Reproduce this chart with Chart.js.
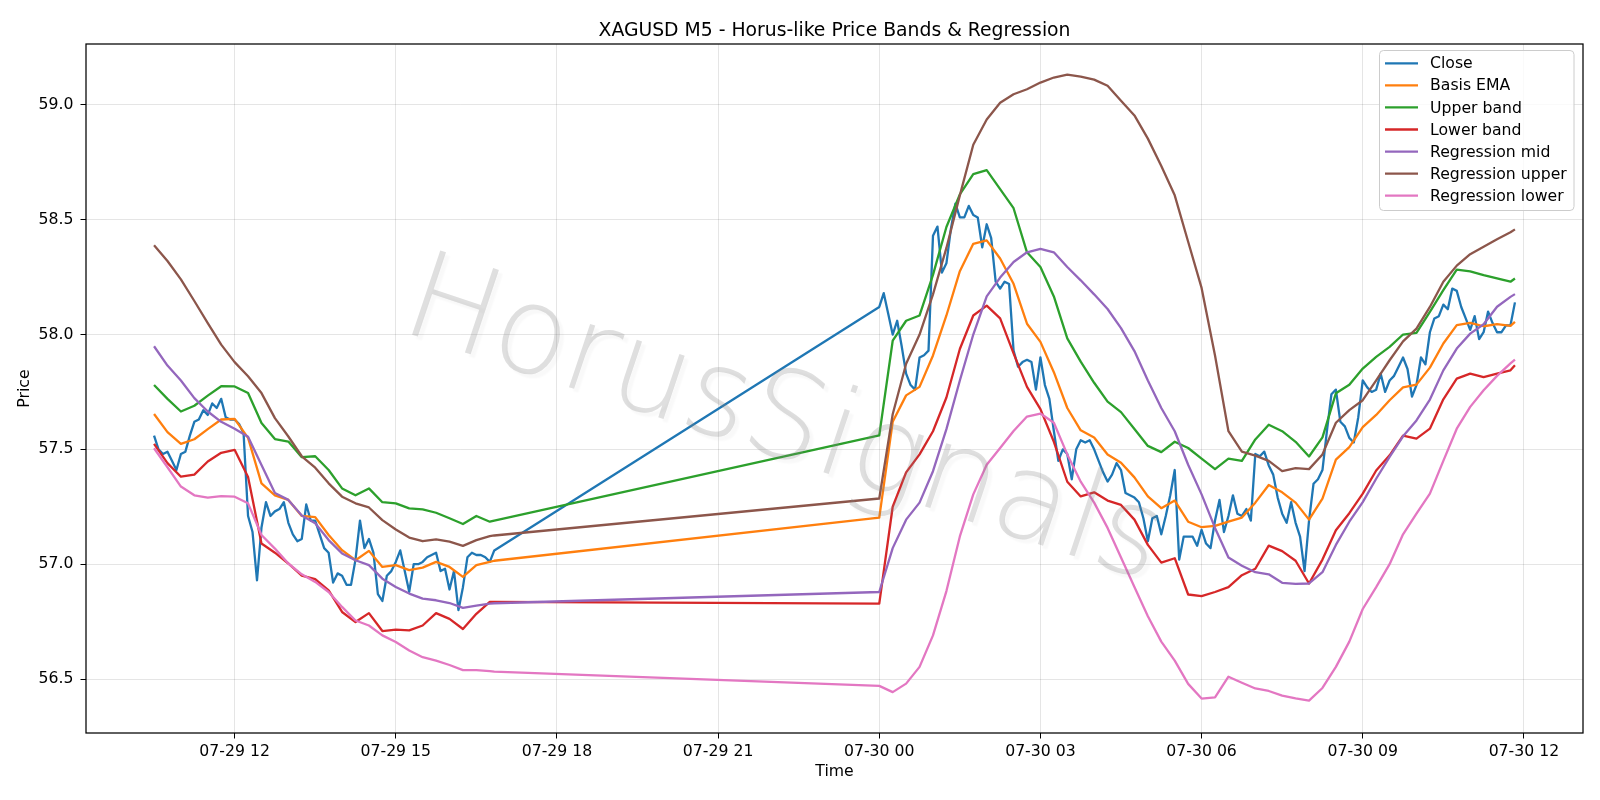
<!DOCTYPE html>
<html>
<head>
<meta charset="utf-8">
<title>XAGUSD M5 - Horus-like Price Bands & Regression</title>
<script src="https://cdn.jsdelivr.net/npm/chart.js@4.4.1/dist/chart.umd.min.js"></script>
<style>
  html, body { margin: 0; padding: 0; background: #fff; }
  #wrap { width: 1600px; height: 800px; }
</style>
</head>
<body>
<div id="wrap"><canvas id="grafico" width="1600" height="800"></canvas></div>
<script>
// sessions in minutes from 07-29 00:00 (market closed in between)
const sesiones = [[630, 1010], [1440, 2150]];

// M5 close, 10:30..16:50 then 00:00..11:50
const closeValores = [
  57.56, 57.50, 57.48, 57.49, 57.45, 57.41, 57.48, 57.49, 57.56, 57.62,
  57.63, 57.67, 57.65, 57.70, 57.68, 57.72, 57.64, 57.63,
  57.63, 57.61, 57.57, 57.21, 57.14, 56.93, 57.16, 57.27, 57.21, 57.23, 57.24, 57.27,
  57.18, 57.13, 57.10, 57.11, 57.26, 57.19, 57.19, 57.13, 57.07, 57.05, 56.92, 56.96,
  56.95, 56.91, 56.91, 57.02, 57.19, 57.07, 57.11, 57.05, 56.87, 56.84, 56.95, 56.97,
  57.01, 57.06, 56.97, 56.88, 57.00, 57.00, 57.01, 57.03, 57.04, 57.05, 56.97, 56.98,
  56.89, 56.97, 56.80, 56.90, 57.03, 57.05, 57.04, 57.04, 57.03, 57.01, 57.06,
  58.12, 58.18, 58.09, 58.00, 58.06, 57.95, 57.83, 57.78, 57.76, 57.90, 57.91, 57.93,
  58.43, 58.47, 58.27, 58.31, 58.46, 58.57, 58.51, 58.51, 58.56, 58.52, 58.51, 58.38,
  58.48, 58.42, 58.23, 58.20, 58.23, 58.22, 57.93, 57.86, 57.88, 57.89, 57.88, 57.76,
  57.90, 57.78, 57.72, 57.58, 57.45, 57.50, 57.48, 57.37, 57.50, 57.54, 57.53, 57.54,
  57.50, 57.45, 57.40, 57.36, 57.39, 57.44, 57.41, 57.31, 57.30, 57.29, 57.27, 57.20,
  57.10, 57.20, 57.21, 57.13, 57.21, 57.30, 57.41, 57.02, 57.12, 57.12, 57.12, 57.08,
  57.15, 57.09, 57.07, 57.19, 57.28, 57.14, 57.21, 57.30, 57.22, 57.21, 57.24, 57.19,
  57.48, 57.47, 57.49, 57.43, 57.39, 57.29, 57.22, 57.18, 57.27, 57.18, 57.12, 56.97,
  57.19, 57.35, 57.37, 57.41, 57.58, 57.74, 57.76, 57.62, 57.60, 57.55, 57.53, 57.64,
  57.80, 57.77, 57.75, 57.76, 57.83, 57.75, 57.80, 57.82, 57.86, 57.90, 57.85, 57.73,
  57.78, 57.90, 57.87, 58.01, 58.07, 58.08, 58.13, 58.11, 58.20, 58.19, 58.12, 58.07,
  58.02, 58.08, 57.98, 58.01, 58.10, 58.05, 58.01, 58.01, 58.04, 58.04, 58.14
];

// bands and regression read every 15 min (plus session end)
const emaValores = [
  57.654, 57.575, 57.524, 57.544, 57.588, 57.63, 57.633, 57.55, 57.352, 57.30, 57.28, 57.21, 57.205, 57.127,
  57.061, 57.017, 57.058, 56.988, 56.996, 56.974, 56.985, 57.01, 56.988, 56.945, 56.996, 57.01, 57.015,
  57.203, 57.62, 57.735, 57.772, 57.909, 58.083, 58.276, 58.395, 58.41, 58.331, 58.221, 58.047,
  57.968, 57.836, 57.68, 57.583, 57.552, 57.478, 57.442, 57.378, 57.295, 57.244, 57.277, 57.185,
  57.161, 57.167, 57.185, 57.203, 57.268, 57.345, 57.313, 57.268, 57.194, 57.286, 57.455, 57.51,
  57.597, 57.65, 57.714, 57.77, 57.782, 57.856, 57.961, 58.041, 58.051, 58.036, 58.045, 58.038, 58.055
];
const bandaSup = [
  57.78, 57.72, 57.665, 57.69, 57.734, 57.775, 57.774, 57.745, 57.615, 57.545, 57.534, 57.466, 57.47, 57.41,
  57.33, 57.30, 57.33, 57.27, 57.265, 57.243, 57.239, 57.224, 57.20, 57.175, 57.21, 57.185, 57.19,
  57.561, 57.973, 58.06, 58.083, 58.26, 58.468, 58.61, 58.698, 58.716, 58.633, 58.55, 58.358,
  58.294, 58.166, 57.983, 57.882, 57.79, 57.708, 57.662, 57.589, 57.515, 57.488, 57.533, 57.506,
  57.46, 57.414, 57.46, 57.45, 57.543, 57.607, 57.579, 57.533, 57.469, 57.552, 57.744, 57.781,
  57.852, 57.903, 57.946, 58.00, 58.007, 58.099, 58.193, 58.283, 58.275, 58.259, 58.245, 58.23, 58.244
];
const bandaInf = [
  57.524, 57.44, 57.381, 57.39, 57.447, 57.485, 57.498, 57.38, 57.09, 57.05, 57.003, 56.95, 56.935, 56.886,
  56.792, 56.748, 56.787, 56.709, 56.715, 56.712, 56.733, 56.787, 56.762, 56.718, 56.784, 56.836, 56.836,
  56.828, 57.25, 57.40, 57.478, 57.579, 57.726, 57.937, 58.083, 58.126, 58.07, 57.918, 57.772,
  57.675, 57.533, 57.359, 57.295, 57.313, 57.277, 57.258, 57.194, 57.084, 57.007, 57.026, 56.868,
  56.861, 56.879, 56.90, 56.952, 56.98, 57.081, 57.057, 57.015, 56.916, 57.02, 57.148, 57.222,
  57.307, 57.408, 57.474, 57.56, 57.547, 57.59, 57.718, 57.808, 57.83, 57.815, 57.83, 57.844, 57.866
];
const regMedia = [
  57.949, 57.865, 57.80, 57.723, 57.665, 57.62, 57.59, 57.555, 57.432, 57.31, 57.28, 57.212, 57.178, 57.105,
  57.047, 57.017, 56.996, 56.937, 56.901, 56.872, 56.85, 56.843, 56.831, 56.81, 56.82, 56.828, 56.83,
  56.879, 57.07, 57.194, 57.268, 57.405, 57.588, 57.80, 58.0, 58.166, 58.248, 58.316, 58.358,
  58.373, 58.358, 58.294, 58.236, 58.175, 58.111, 58.028, 57.928, 57.80, 57.68, 57.579, 57.433,
  57.304, 57.158, 57.029, 56.993, 56.965, 56.956, 56.919, 56.914, 56.916, 56.965, 57.084, 57.185,
  57.27, 57.372, 57.467, 57.557, 57.626, 57.717, 57.844, 57.939, 58.004, 58.045, 58.121, 58.164, 58.176
];
const regSup = [
  58.389, 58.32, 58.24, 58.146, 58.05, 57.956, 57.88, 57.818, 57.745, 57.636, 57.556, 57.47, 57.42, 57.352,
  57.294, 57.265, 57.247, 57.192, 57.151, 57.116, 57.10, 57.108, 57.098, 57.08, 57.105, 57.122, 57.125,
  57.286, 57.653, 57.873, 58.0, 58.175, 58.377, 58.606, 58.826, 58.936, 59.009, 59.046, 59.068,
  59.097, 59.119, 59.132, 59.123, 59.11, 59.083, 59.018, 58.954, 58.853, 58.734, 58.606, 58.404,
  58.203, 57.909, 57.579, 57.49, 57.473, 57.45, 57.405, 57.418, 57.414, 57.478, 57.616, 57.671,
  57.714, 57.80, 57.888, 57.97, 58.026, 58.12, 58.23, 58.30, 58.35, 58.382, 58.415, 58.445, 58.458
];
const regInf = [
  57.505, 57.422, 57.338, 57.30, 57.29, 57.296, 57.294, 57.265, 57.127, 57.068, 57.003, 56.956, 56.923, 56.879,
  56.814, 56.755, 56.733, 56.69, 56.661, 56.624, 56.595, 56.58, 56.561, 56.539, 56.539, 56.534, 56.532,
  56.47, 56.443, 56.48, 56.553, 56.69, 56.883, 57.121, 57.304, 57.433, 57.506, 57.58, 57.643,
  57.656, 57.616, 57.478, 57.359, 57.268, 57.158, 57.029, 56.901, 56.773, 56.663, 56.58, 56.479,
  56.415, 56.42, 56.51, 56.484, 56.459, 56.448, 56.428, 56.416, 56.406, 56.461, 56.553, 56.663,
  56.805, 56.90, 57.0, 57.13, 57.22, 57.307, 57.45, 57.59, 57.685, 57.757, 57.82, 57.874, 57.891
];

const horasTicks = [12, 15, 18, 21, 24, 27, 30, 33, 36];
const preciosTicks = [56.5, 57.0, 57.5, 58.0, 58.5, 59.0];
const nombres = ['Close', 'Basis EMA', 'Upper band', 'Lower band', 'Regression mid', 'Regression upper', 'Regression lower'];
const colores = ['#1f77b4', '#ff7f0e', '#2ca02c', '#d62728', '#9467bd', '#8c564b', '#e377c2'];

const FUENTE = '"DejaVu Sans", sans-serif';

function malla(paso) {
    const t = [];
    sesiones.forEach(([ini, fin]) => {
        for (let m = ini; m <= fin; m += paso) t.push(m / 60);
        if ((fin - ini) % paso !== 0) t.push(fin / 60);
    });
    return t;
}

function etiquetaHora(v) {
    const dia = 29 + Math.floor(v / 24);
    const hora = Math.round(v % 24);
    return `07-${dia} ${String(hora).padStart(2, '0')}`;
}

const tiemposClose = malla(5);
const tiemposBanda = malla(15);
const series = [closeValores, emaValores, bandaSup, bandaInf, regMedia, regSup, regInf];

const datasets = series.map((valores, i) => {
    const tiempos = i === 0 ? tiemposClose : tiemposBanda;
    return {
        label: nombres[i],
        data: valores.map((y, j) => ({ x: tiempos[j], y })),
        borderColor: colores[i],
        borderWidth: 2.3,
        borderJoinStyle: 'round',
        pointRadius: 0,
        fill: false,
        tension: 0,
        order: series.length - 1 - i
    };
});

const extras = {
    id: 'extras',
    afterDatasetsDraw(chart) {
        const { ctx, chartArea } = chart;
        ctx.save();
        ctx.beginPath();
        ctx.rect(chartArea.left, chartArea.top, chartArea.right - chartArea.left, chartArea.bottom - chartArea.top);
        ctx.clip();
        ctx.translate(398, 330);
        ctx.rotate(18.5 * Math.PI / 180);
        ctx.font = '200 122px ' + FUENTE;
        ctx.textBaseline = 'alphabetic';
        ctx.shadowColor = 'rgba(0,0,0,0.10)';
        ctx.shadowOffsetX = 4;
        ctx.shadowOffsetY = 4;
        ctx.shadowBlur = 2;
        ctx.fillStyle = 'rgba(130,130,130,0.26)';
        ctx.fillText('HorusSignals', 0, 0);
        ctx.restore();
    },
    afterDraw(chart) {
        const { ctx, chartArea } = chart;
        ctx.save();
        // frame
        ctx.strokeStyle = '#000';
        ctx.lineWidth = 1.25;
        ctx.strokeRect(chartArea.left, chartArea.top, chartArea.right - chartArea.left, chartArea.bottom - chartArea.top);

        // title
        ctx.fillStyle = '#000';
        ctx.font = '18.8px ' + FUENTE;
        ctx.textAlign = 'center';
        ctx.textBaseline = 'alphabetic';
        ctx.fillText('XAGUSD M5 - Horus-like Price Bands & Regression', (chartArea.left + chartArea.right) / 2, 35.5);

        // legend
        const x0 = 1379.5, y0 = 50.5, w = 194.5, h = 160, r = 4;
        ctx.beginPath();
        ctx.moveTo(x0 + r, y0);
        ctx.arcTo(x0 + w, y0, x0 + w, y0 + h, r);
        ctx.arcTo(x0 + w, y0 + h, x0, y0 + h, r);
        ctx.arcTo(x0, y0 + h, x0, y0, r);
        ctx.arcTo(x0, y0, x0 + w, y0, r);
        ctx.closePath();
        ctx.fillStyle = 'rgba(255,255,255,0.8)';
        ctx.fill();
        ctx.strokeStyle = '#cccccc';
        ctx.lineWidth = 1;
        ctx.stroke();

        ctx.font = '15.7px ' + FUENTE;
        ctx.textAlign = 'left';
        ctx.textBaseline = 'middle';
        chart.data.datasets.forEach((ds, i) => {
            const y = 63.3 + i * 22.07;
            ctx.strokeStyle = ds.borderColor;
            ctx.lineWidth = 2.3;
            ctx.beginPath();
            ctx.moveTo(1385, y);
            ctx.lineTo(1418, y);
            ctx.stroke();
            ctx.fillStyle = '#000';
            ctx.fillText(ds.label, 1430, y + 1);
        });
        ctx.restore();
    }
};

new Chart(document.getElementById('grafico'), {
    type: 'line',
    data: { datasets },
    options: {
        responsive: false,
        animation: false,
        layout: { padding: { top: 44, right: 17, left: 0, bottom: 0 } },
        plugins: { legend: { display: false }, tooltip: { enabled: false } },
        scales: {
            x: {
                type: 'linear',
                min: 9.2333,
                max: 37.1,
                afterBuildTicks: s => { s.ticks = horasTicks.map(v => ({ value: v })); },
                afterFit: s => { s.height = 67; },
                ticks: { callback: v => etiquetaHora(v), font: { family: FUENTE, size: 15.7 }, color: '#000', padding: 4, maxRotation: 0, autoSkip: false },
                grid: { color: 'rgba(0,0,0,0.1)', lineWidth: 1, tickColor: '#000', tickLength: 5.5 },
                border: { display: false },
                title: { display: true, text: 'Time', font: { family: FUENTE, size: 15.7 }, color: '#000', padding: { top: 0, bottom: 19 } }
            },
            y: {
                type: 'linear',
                min: 56.265,
                max: 59.265,
                afterBuildTicks: s => { s.ticks = preciosTicks.map(v => ({ value: v })); },
                afterFit: s => { s.width = 86; },
                ticks: { callback: v => v.toFixed(1), font: { family: FUENTE, size: 15.7 }, color: '#000', padding: 7 },
                grid: { color: 'rgba(0,0,0,0.1)', lineWidth: 1, tickColor: '#000', tickLength: 5.5 },
                border: { display: false },
                title: { display: true, text: 'Price', font: { family: FUENTE, size: 15.7 }, color: '#000', padding: { top: 16, bottom: 0 } }
            }
        }
    },
    plugins: [extras]
});
</script>
</body>
</html>
